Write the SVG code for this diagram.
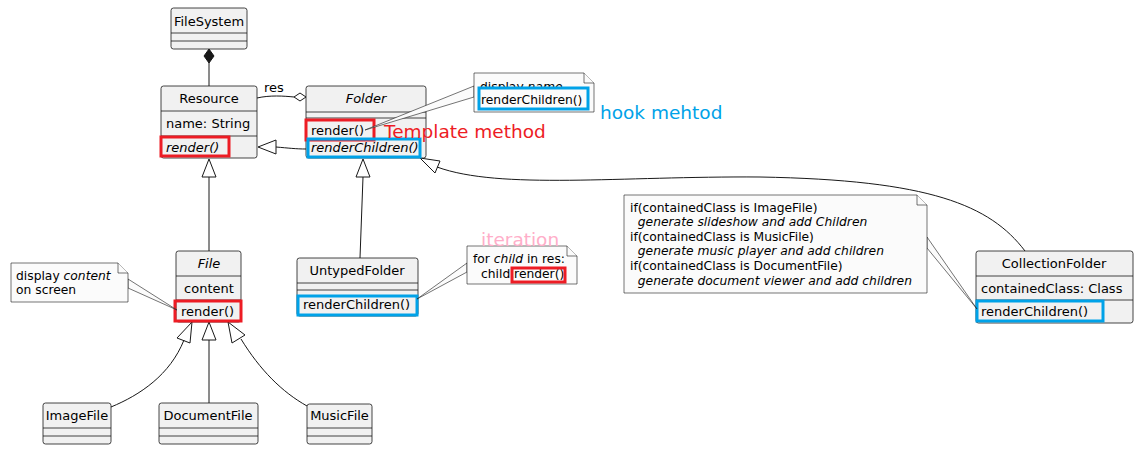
<svg xmlns="http://www.w3.org/2000/svg" width="1145" height="459" viewBox="0 0 1145 459">
<style>
.cls{fill:#F1F1F1;stroke:#181818;stroke-width:0.8}
.sep{stroke:#181818;stroke-width:0.8}
.t{font-family:"DejaVu Sans",sans-serif;font-size:13px;fill:#000}
.it{font-style:italic}
.mid{text-anchor:middle}
.note{fill:#FBFBFB;stroke:#181818;stroke-width:0.6}
.nt{font-family:"DejaVu Sans",sans-serif;font-size:12.3px;fill:#000}
.con{fill:none;stroke:#181818;stroke-width:1}
.tri{fill:none;stroke:#181818;stroke-width:1}
.red{fill:none;stroke:#ED1C24;stroke-width:3}
.blue{fill:none;stroke:#00A2E8;stroke-width:3}
.ann{font-family:"DejaVu Sans",sans-serif;font-size:18.5px}
</style>
<rect width="1145" height="459" fill="#FFFFFF"/>
<g id="connectors">
  <line class="con" x1="209" y1="62" x2="209" y2="86"/>
  <polygon points="209,49 214,56 209,63 204,56" fill="#181818" stroke="#181818"/>
  <path class="con" d="M257,98 C270,95 284,96 294,97"/>
  <polygon points="306,97 300,93 294,97 300,101" fill="#FFFFFF" stroke="#181818"/>
  <text class="t" x="264" y="92">res</text>
  <path class="con" d="M306,149 C296,149 288,148 276,147"/>
  <polygon class="tri" points="258,147 276,140 276,154" fill="#FFFFFF"/>
  <line class="con" x1="209" y1="177" x2="209" y2="251"/>
  <polygon class="tri" points="209,159 202,177 216,177" fill="#FFFFFF"/>
  <line class="con" x1="363" y1="177" x2="360" y2="258"/>
  <polygon class="tri" points="363,159 356,177 370,177" fill="#FFFFFF"/>
  <path class="con" d="M1025,251 C990,205 930,180 760,177 C620,176 500,190 437,167"/>
  <polygon class="tri" points="420,158 440,161 435,173" fill="#FFFFFF"/>
  <path class="con" d="M184,340 C170,375 140,395 111,407"/>
  <polygon class="tri" points="192,322 177,338 190,343" fill="#FFFFFF"/>
  <line class="con" x1="209" y1="340" x2="209" y2="403"/>
  <polygon class="tri" points="209,322 202,340 216,340" fill="#FFFFFF"/>
  <path class="con" d="M241,339 C260,370 282,392 307,406"/>
  <polygon class="tri" points="228,322 232,343 245,335" fill="#FFFFFF"/>
</g>
<g id="FileSystem">
  <rect class="cls" x="171" y="8" width="76" height="41" rx="2.5"/>
  <line class="sep" x1="171" y1="33" x2="247" y2="33"/>
  <line class="sep" x1="171" y1="41" x2="247" y2="41"/>
  <text class="t mid" x="209" y="26">FileSystem</text>
</g>
<g id="Resource">
  <rect class="cls" x="161" y="86" width="96" height="72" rx="2.5"/>
  <line class="sep" x1="161" y1="111" x2="257" y2="111"/>
  <line class="sep" x1="161" y1="136" x2="257" y2="136"/>
  <text class="t mid" x="209" y="103" font-size="13.5">Resource</text>
  <text class="t" x="166" y="128">name: String</text>
  <text class="t it" x="166" y="152">render()</text>
  <rect class="red" x="161" y="137" width="68" height="19"/>
</g>
<g id="Folder">
  <rect class="cls" x="306" y="86" width="120" height="72" rx="2.5"/>
  <line class="sep" x1="306" y1="112" x2="426" y2="112"/>
  <line class="sep" x1="306" y1="118" x2="426" y2="118"/>
  <text class="t it mid" x="366" y="103" font-size="13.5">Folder</text>
  <text class="t" x="311" y="135">render()</text>
  <text class="t it" x="311" y="152">renderChildren()</text>
  <rect class="red" x="306" y="120" width="68" height="20"/>
  <rect class="blue" x="308" y="139" width="112" height="18"/>
</g>
<g id="File">
  <rect class="cls" x="176" y="251" width="65" height="71" rx="2.5"/>
  <line class="sep" x1="176" y1="276" x2="241" y2="276"/>
  <line class="sep" x1="176" y1="300" x2="241" y2="300"/>
  <text class="t it mid" x="209" y="268" font-size="13.5">File</text>
  <text class="t mid" x="209" y="293">content</text>
  <text class="t" x="181" y="316">render()</text>
  <rect class="red" x="175" y="301" width="66" height="20"/>
</g>
<g id="UntypedFolder">
  <rect class="cls" x="297" y="258" width="121" height="58" rx="2.5"/>
  <line class="sep" x1="297" y1="283" x2="418" y2="283"/>
  <line class="sep" x1="297" y1="290" x2="418" y2="290"/>
  <text class="t mid" x="357" y="275" font-size="13.5">UntypedFolder</text>
  <text class="t" x="303" y="309">renderChildren()</text>
  <rect class="blue" x="298" y="296" width="119" height="19"/>
</g>
<g id="CollectionFolder">
  <rect class="cls" x="976" y="251" width="157" height="72" rx="2.5"/>
  <line class="sep" x1="976" y1="276" x2="1133" y2="276"/>
  <line class="sep" x1="976" y1="300" x2="1133" y2="300"/>
  <text class="t mid" x="1054" y="268" font-size="13.5">CollectionFolder</text>
  <text class="t" x="981" y="293" font-size="13.4">containedClass: Class</text>
  <text class="t" x="981" y="316">renderChildren()</text>
  <rect class="blue" x="977" y="301" width="126" height="20"/>
</g>
<g id="ImageFile">
  <rect class="cls" x="43" y="403" width="68" height="41" rx="2.5"/>
  <line class="sep" x1="43" y1="428" x2="111" y2="428"/>
  <line class="sep" x1="43" y1="436" x2="111" y2="436"/>
  <text class="t mid" x="77" y="420">ImageFile</text>
</g>
<g id="DocumentFile">
  <rect class="cls" x="159" y="403" width="99" height="41" rx="2.5"/>
  <line class="sep" x1="159" y1="428" x2="258" y2="428"/>
  <line class="sep" x1="159" y1="436" x2="258" y2="436"/>
  <text class="t mid" x="208" y="420">DocumentFile</text>
</g>
<g id="MusicFile">
  <rect class="cls" x="307" y="404" width="65" height="40" rx="2.5"/>
  <line class="sep" x1="307" y1="428" x2="372" y2="428"/>
  <line class="sep" x1="307" y1="436" x2="372" y2="436"/>
  <text class="t mid" x="339.5" y="420">MusicFile</text>
</g>
<g id="note-folder">
  <polygon class="note" points="474,86 474,97 365,130"/>
  <path class="note" d="M474,73 L584,73 L594,83 L594,112 L474,112 Z"/>
  <path class="note" d="M584,73 L584,83 L594,83" fill="none"/>
  <text class="nt" x="480" y="91">display <tspan font-style="italic">name</tspan></text>
  <rect x="479" y="88" width="109" height="21" fill="#FBFBFB"/>
  <text class="nt" x="481" y="104">renderChildren()</text>
  <rect class="blue" x="479" y="88" width="109" height="21"/>
</g>
<g id="note-file">
  <polygon class="note" points="128,279 128,288 177,310"/>
  <path class="note" d="M11,263 L118,263 L128,273 L128,302 L11,302 Z"/>
  <path class="note" d="M118,263 L118,273 L128,273" fill="none"/>
  <text class="nt" x="16" y="280">display <tspan font-style="italic">content</tspan></text>
  <text class="nt" x="16" y="294">on screen</text>
</g>
<g id="note-untyped">
  <polygon class="note" points="467,263 467,272 417,299"/>
  <path class="note" d="M467,246 L567,246 L577,256 L577,284 L467,284 Z"/>
  <path class="note" d="M567,246 L567,256 L577,256" fill="none"/>
  <text class="nt" x="473" y="263">for <tspan font-style="italic">child</tspan> in res:</text>
  <text class="nt" x="481" y="278">child.render()</text>
  <rect class="red" x="512" y="268" width="53" height="14"/>
</g>
<g id="note-collection">
  <polygon class="note" points="927,237 927,248 977,309"/>
  <path class="note" d="M624,195 L917,195 L927,205 L927,293 L624,293 Z"/>
  <path class="note" d="M917,195 L917,205 L927,205" fill="none"/>
  <text class="nt" x="630" y="212">if(containedClass is ImageFile)</text>
  <text class="nt it" x="630" y="226" xml:space="preserve">  generate slideshow and add Children</text>
  <text class="nt" x="630" y="241">if(containedClass is MusicFile)</text>
  <text class="nt it" x="630" y="255" xml:space="preserve">  generate music player and add children</text>
  <text class="nt" x="630" y="270">if(containedClass is DocumentFile)</text>
  <text class="nt it" x="630" y="285" xml:space="preserve">  generate document viewer and add children</text>
</g>
<g id="annotations">
  <text class="ann" x="600" y="119" fill="#00A2E8">hook mehtod</text>
  <text class="ann" x="384" y="138" fill="#ED1C24">Template method</text>
  <text class="ann" x="481" y="246" fill="#FFAEC9">iteration</text>
</g>
</svg>
